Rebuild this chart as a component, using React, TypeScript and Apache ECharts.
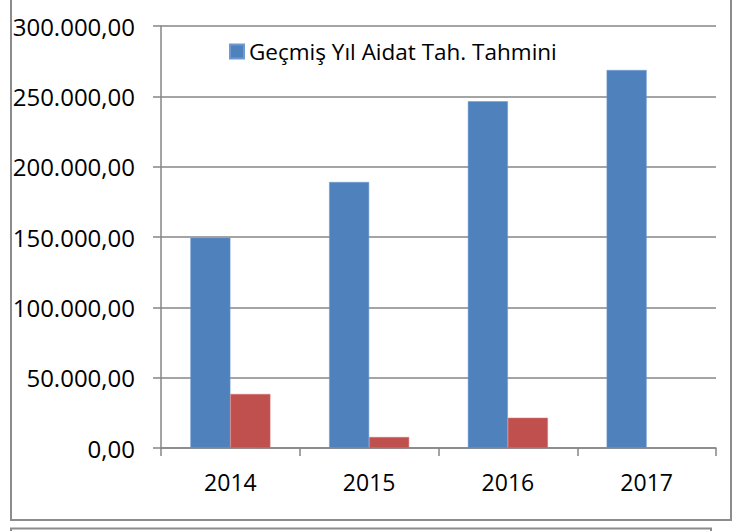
import React, { useEffect, useRef } from "react";
import * as echarts from "echarts";

const categories = ["2014", "2015", "2016", "2017"];
const seriesBlueName = "Geçmiş Yıl Aidat Tah. Tahmini";
const seriesBlue = [149500, 189100, 246500, 268700];
const seriesRedName = "Gerçekleşen";
const seriesRed: (number | null)[] = [38400, 7800, 21500, null];
const yTicks = { min: 0, max: 300000, interval: 50000 };

function fmtTR(v: number): string {
  const s = Math.round(v).toString().replace(/\B(?=(\d{3})+(?!\d))/g, ".");
  return s + ",00";
}

export default function App() {
  const ref = useRef<HTMLDivElement>(null);
  useEffect(() => {
    if (!ref.current) return;
    const chart = echarts.init(ref.current, null, { renderer: "svg" });
    const gray = "#868686";
    chart.setOption({
      animation: false,
      backgroundColor: "#ffffff",
      textStyle: { fontFamily: "Open Sans", color: "#000" },
      grid: { left: 161, right: 23, top: 26, bottom: 83 },
      legend: {
        data: [seriesBlueName],
        left: 224,
        top: 35,
        itemWidth: 14,
        itemHeight: 14,
        itemGap: 6,
        icon: "rect",
        textStyle: { fontSize: 22.5, color: "#000", fontFamily: "Open Sans" },
      },
      xAxis: {
        type: "category",
        data: categories,
        axisLine: { show: true, lineStyle: { color: gray, width: 1.5 } },
        axisTick: { show: true, length: 8, inside: false, lineStyle: { color: gray, width: 1.5 } },
        axisLabel: { fontSize: 23, color: "#000", margin: 22, fontFamily: "Open Sans" },
      },
      yAxis: {
        type: "value",
        min: yTicks.min,
        max: yTicks.max,
        interval: yTicks.interval,
        axisLine: { show: true, lineStyle: { color: gray, width: 1.5 } },
        axisTick: { show: true, length: 8, lineStyle: { color: gray, width: 1.5 } },
        splitLine: { show: true, lineStyle: { color: gray, width: 1.5 } },
        axisLabel: {
          fontSize: 24,
          color: "#000",
          margin: 26,
          fontFamily: "Open Sans",
          formatter: (v: number) => fmtTR(v),
        },
      },
      series: [
        {
          name: seriesBlueName,
          type: "bar",
          data: seriesBlue,
          barWidth: 40,
          barGap: "0%",
          itemStyle: { color: "#4F81BD", borderColor: "#6f9ad0", borderWidth: 0.5 },
        },
        {
          name: seriesRedName,
          type: "bar",
          data: seriesRed,
          barWidth: 40,
          barGap: "0%",
          itemStyle: { color: "#C0504D", borderColor: "#d47370", borderWidth: 0.5 },
        },
      ],
      graphic: [
        {
          type: "rect",
          silent: true,
          shape: { x: 11, y: -1, width: 720, height: 521 },
          style: { fill: "none", stroke: "#8c8c8c", lineWidth: 2 },
        },
        {
          type: "rect",
          silent: true,
          shape: { x: 11, y: 528.5, width: 700, height: 20 },
          style: { fill: "none", stroke: "#8c8c8c", lineWidth: 2 },
        },
      ],
    });
    return () => chart.dispose();
  }, []);
  return (
    <div
      ref={ref}
      style={{ position: "fixed", left: 0, top: 0, width: 739, height: 531, background: "#fff" }}
    />
  );
}
